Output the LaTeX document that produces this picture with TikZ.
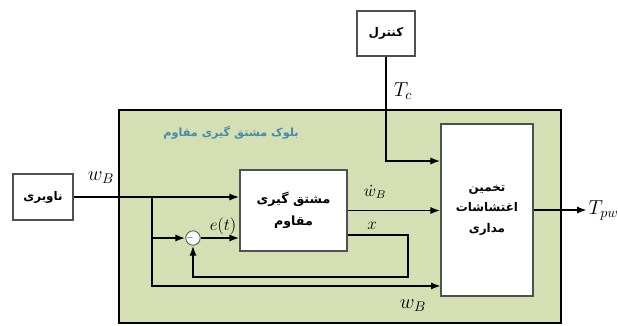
\documentclass[tikz,border=0pt]{standalone}
\usepackage{fontspec}
\usepackage{amsmath}
\usetikzlibrary{arrows.meta,calc,positioning}
\TeXXeTstate=1
\newfontfamily\fafont[Script=Arabic]{DejaVu Sans}
\definecolor{blockgreen}{HTML}{D5DFB4}
\definecolor{titleblue}{HTML}{468CAA}
\definecolor{boxgray}{HTML}{505050}

\begin{document}
\begin{tikzpicture}[x=0.025cm,y=-0.025cm,
  box/.style={draw=boxgray,line width=0.8pt,fill=white,align=center,inner sep=2pt,font=\fafont\bfseries\fontsize{8.5}{15}\selectfont},
  sig/.style={line width=1.4pt,-{Latex[length=2.5mm,width=1.8mm]}},
  lbl/.style={font=\large,inner sep=1pt}]
\useasboundingbox (0,0) rectangle (618,325);
% outer block
\node (blk) [draw=black,line width=0.9pt,fill=blockgreen,minimum width=11.05cm,minimum height=5.325cm] at (340,216.5) {};
\node (title) [text=titleblue,font=\fafont\bfseries\fontsize{8}{10}\selectfont] at (231,133) {\beginR بلوک مشتق گیری مقاوم\endR};
% boxes
\node (ctl) [box,minimum width=1.45cm,minimum height=1.125cm] at (386,33.5) {\beginR کنترل\endR};
\node (nav) [box,minimum width=1.5cm,minimum height=1.15cm] at (43,197) {\beginR ناوبری\endR};
\node (mid) [box,font=\fafont\bfseries\fontsize{9}{16}\selectfont,minimum width=2.675cm,minimum height=2.025cm] at (293.5,210.5) {\beginR مشتق گیری\endR\\\beginR مقاوم\endR};
\node (est) [box,font=\fafont\bfseries\fontsize{8.5}{14.5}\selectfont,minimum width=2.3cm,minimum height=4.3cm] at (487,210) {\beginR تخمین\endR\\\beginR اغتشاشات\endR\\\beginR مداری\endR};
\node (sum) [circle,draw=boxgray,line width=0.6pt,fill=white,minimum size=0.36cm,inner sep=0pt] at (193,238) {};
\node (minus) [font=\tiny,inner sep=0pt] at ([xshift=-0.07cm]sum.center) {$-$};
\node (tpw) [anchor=west,font=\Large,inner sep=1pt] at (587,210) {$T_{pw}$};
% free ends
\coordinate (br) at (152,197);
\coordinate (xr) at (408,277);
\coordinate (wbin) at (441,286);
% connectors
\draw[sig] (nav.east) -- (nav.east -| mid.west);
\draw[sig] (br) |- (sum.west);
\draw[sig] (br) |- (wbin);
\draw[sig] (sum.east) -- (sum.east -| mid.west);
\draw[sig] (mid.east) -- (mid.east -| est.west);
\draw[sig] ([yshift=-0.61cm]mid.east) -| (xr) -| (sum.south);
\draw[sig] (ctl.south) |- ([yshift=1.225cm]est.west);
\draw[sig] (est.east) -- (tpw.west);
% labels
\node (lwb) [lbl,font=\Large] at (101,178) {$w_B$};
\node (ltc) [lbl,font=\Large] at (403,91) {$T_c$};
\node (let) [lbl] at (223,226) {$e(t)$};
\node (lwd) [lbl] at (375,192) {$\dot{w}_B$};
\node (lx) [lbl] at (372,226) {$x$};
\node (lwb2) [lbl,font=\Large] at (413,306) {$w_B$};
\end{tikzpicture}
\end{document}
